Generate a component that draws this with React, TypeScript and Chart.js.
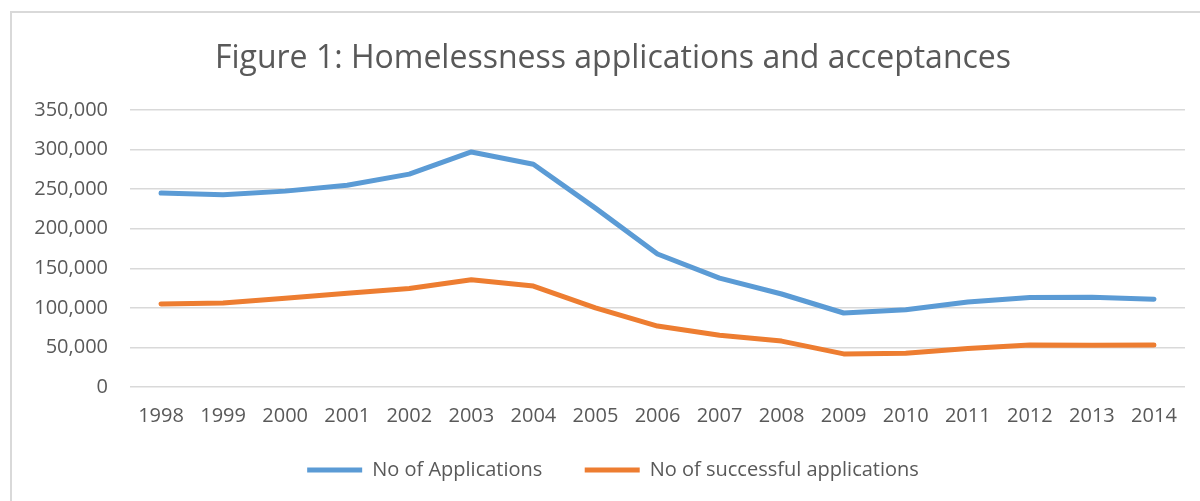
import React, { useEffect, useRef } from "react";
import { Chart, registerables } from "chart.js";

Chart.register(...registerables);

const years = ["1998","1999","2000","2001","2002","2003","2004","2005","2006","2007","2008","2009","2010","2011","2012","2013","2014"];
const applications = [245000,243000,247500,255000,269000,297000,281500,226000,168000,137500,117500,93500,97500,107500,113000,113500,111000];
const successful = [104800,106000,112000,118500,124500,135500,127500,100000,77000,65500,58000,41800,42700,48500,53000,52800,53000];
const yTicks = [0,50000,100000,150000,200000,250000,300000,350000];
const seriesNames = ["No of Applications","No of successful applications"];
const titleText = "Figure 1: Homelessness applications and acceptances";

const FONT = "'Open Sans', 'Noto Sans', sans-serif";
const TEXT = "#595959";

export default function App() {
  const ref = useRef<HTMLCanvasElement | null>(null);
  useEffect(() => {
    if (!ref.current) return;
    const chart = new Chart(ref.current, {
      type: "line",
      data: {
        labels: years,
        datasets: [
          { label: seriesNames[0], data: applications, borderColor: "#5B9BD5", backgroundColor: "#5B9BD5", borderWidth: 5, pointRadius: 0, tension: 0, borderCapStyle: "round", borderJoinStyle: "round" },
          { label: seriesNames[1], data: successful, borderColor: "#ED7D31", backgroundColor: "#ED7D31", borderWidth: 5, pointRadius: 0, tension: 0, borderCapStyle: "round", borderJoinStyle: "round" },
        ],
      },
      options: {
        animation: false,
        responsive: false,
        devicePixelRatio: 1,
        layout: { padding: { left: 26, right: 0, top: 0, bottom: 11 } },
        plugins: {
          tooltip: { enabled: false },
          title: {
            display: true,
            text: titleText,
            color: TEXT,
            font: { family: FONT, size: 32, weight: "normal" },
            padding: { top: 40, bottom: 31.6 },
          },
          legend: {
            display: true,
            position: "bottom",
            labels: {
              color: TEXT,
              font: { family: FONT, size: 20 },
              boxWidth: 55,
              boxHeight: 5,
              padding: 32,
              useBorderRadius: true,
              borderRadius: 2.5,
              generateLabels: (c: any) =>
                c.data.datasets.map((d: any, i: number) => ({
                  text: i === 0 ? d.label + "  " : d.label,
                  fillStyle: d.borderColor,
                  strokeStyle: d.borderColor,
                  lineWidth: 0,
                  datasetIndex: i,
                  hidden: false,
                  fontColor: TEXT,
                })),
            },
          },
        },
        scales: {
          x: {
            offset: true,
            grid: { display: false, drawTicks: false },
            border: { display: false },
            afterFit: (s: any) => { s.height = 41; },
            ticks: { color: TEXT, font: { family: FONT, size: 20 }, padding: 17, maxRotation: 0, autoSkip: false },
          },
          y: {
            min: 0,
            max: 350000,
            afterBuildTicks: (s: any) => { s.ticks = yTicks.map((v) => ({ value: v })); },
            afterFit: (s: any) => { s.width = 104; },
            grid: { color: "#d9d9d9", lineWidth: 1.5, drawTicks: false },
            border: { display: false },
            ticks: {
              color: TEXT,
              font: { family: FONT, size: 20 },
              padding: 22,
              callback: (v: any) => Number(v).toLocaleString("en-US"),
            },
          },
          yRight: {
            position: "right",
            display: true,
            grid: { display: false, drawTicks: false },
            border: { display: false },
            ticks: { display: false },
            afterFit: (s: any) => { s.width = 15; },
          },
        },
      },
    });
    return () => chart.destroy();
  }, []);
  return (
    <div style={{ position: "absolute", left: 0, top: 0, width: 1200, height: 501, background: "#fff", overflow: "hidden" }}>
      <div style={{ position: "absolute", left: 10, top: 11, width: 1300, height: 600, borderLeft: "2px solid #d9d9d9", borderTop: "2px solid #d9d9d9" }} />
      <canvas ref={ref} width={1200} height={501} style={{ position: "absolute", left: 0, top: 0 }} />
    </div>
  );
}
